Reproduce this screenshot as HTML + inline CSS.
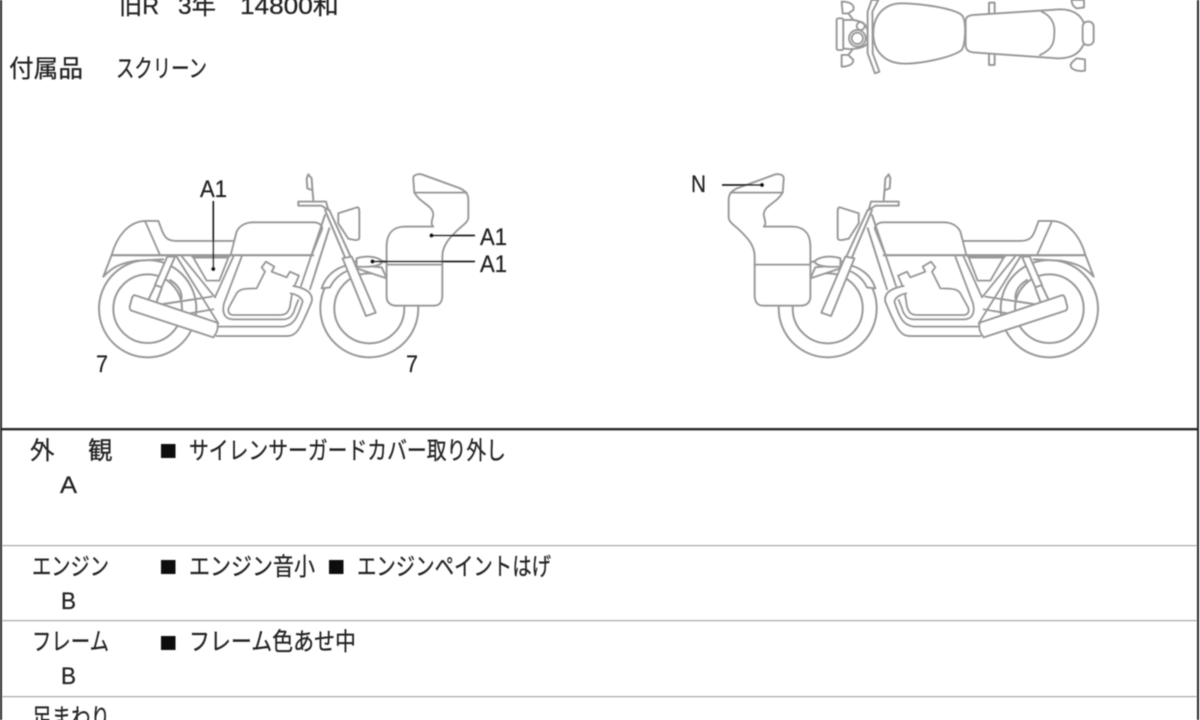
<!DOCTYPE html>
<html lang="ja">
<head>
<meta charset="utf-8">
<title>車両状態</title>
<style>
html,body{margin:0;padding:0;background:#fff;width:1200px;height:720px;overflow:hidden}
svg{display:block}
text{font-family:"Liberation Sans","Noto Sans CJK JP",sans-serif;font-size:24.5px;fill:#222;stroke:#222;stroke-width:.25}
.l{fill:none;stroke:#999;stroke-width:6;stroke-linejoin:round;stroke-linecap:round}
.w{fill:#fff;stroke:#999;stroke-width:6;stroke-linejoin:round;stroke-linecap:round}
</style>
</head>
<body>
<svg width="1200" height="720" viewBox="0 0 1200 720" xmlns="http://www.w3.org/2000/svg">
<defs>
<g id="bike">
  <!-- wheels -->
  <circle class="l" cx="203" cy="446" r="146"/>
  <circle class="l" cx="203" cy="446" r="103"/>
  <path class="l" d="M270,360C295,375 305,395 305,415"/>
  <circle class="l" cx="868" cy="445" r="147"/>
  <circle class="l" cx="868" cy="445" r="105"/>
  <!-- frame mask -->
  <path d="M295,288L700,288L700,400L660,530L410,530Z" fill="#fff"/>
  <!-- rear shock -->
  <path class="w" d="M262,290L285,290L245,382L225,375Z"/>
  <path class="l" d="M225,378L205,420M245,385L230,425"/>
  <!-- swing arm -->
  <path class="l" d="M250,432L395,410M330,460L400,448"/>
  <!-- seat & tail -->
  <path class="w" d="M95,285C110,230 145,185 195,183L235,183C250,220 250,243 290,243L465,243L455,285Z"/>
  <path class="l" d="M195,183L240,285"/>
  <path class="w" d="M95,285L70,350C90,330 110,310 170,302L250,298"/>
  <!-- tank -->
  <path class="w" d="M452,285L470,215C480,195 500,187 520,187L700,187C720,187 730,200 725,210L695,285Z"/>
  <path class="l" d="M95,286L700,286"/>
  <!-- side panel & frame tubes -->
  <path class="l" d="M340,293L445,293L418,362L380,362Z"/>
  <path class="l" d="M336,290L448,290"/>
  <path class="l" d="M290,290L415,490M306,290L405,412L460,290"/>
  <path class="l" d="M485,290L432,430C425,460 435,478 460,478L610,478C630,478 640,465 645,445L655,420"/>
  <!-- engine -->
  <path class="l" d="M460,465C447,465 442,455 447,442L470,400C478,388 490,385 530,385L555,335L545,322L558,305L583,320L575,335L620,352L630,335L657,347L645,375"/>
  <path class="l" d="M460,465L600,465C620,465 625,455 630,440L636,402"/>
  <!-- down tubes -->
  <path class="l" d="M735,165L663,378M748,205L690,388"/>
  <!-- exhaust pipes -->
  <path class="l" d="M410,528L620,528C650,528 660,510 695,425C700,400 680,385 640,378"/>
  <path class="l" d="M415,500L610,500C640,495 650,480 668,425C665,410 645,402 632,400"/>
  <!-- muffler -->
  <path class="w" d="M165,406L412,488C416,505 410,520 400,532L155,452C147,448 148,440 152,430C155,415 158,405 165,406Z"/>
  <!-- headlight -->
  <path class="w" d="M775,160L832,142C838,142 838,150 838,160L838,232C838,240 832,240 825,240L805,236L775,190Z"/>
  <!-- mirror & handlebar -->
  <path class="l" d="M700,120L697,85L695,55L685,43L680,55L682,85L695,90"/>
  <path class="w" d="M655,125L738,125L745,150L725,137L655,137Z"/>
  <!-- fender -->
  <path class="w" d="M725,385C740,340 780,312 830,315L905,322L920,355L830,325C795,330 765,350 750,382Z"/>
  <path class="w" d="M830,295C860,285 895,290 908,305C900,320 870,322 830,320Z"/>
  <!-- fork -->
  <path class="l" d="M735,150L795,292M748,150L812,290"/>
  <path class="w" d="M788,295L815,290L887,458L858,468Z"/>
  <!-- fairing -->
  <path class="w" d="M1003,97L1000,55C1000,42 1020,40 1030,45L1140,85C1160,95 1165,105 1165,120L1165,172C1165,185 1150,195 1135,208C1110,232 1087,255 1087,290L1087,405C1087,425 1080,437 1060,437L950,437C935,437 920,430 920,410L920,260C920,220 940,200 975,200L1060,200C1050,190 1058,180 1060,165C1060,135 1020,130 1003,97Z"/>
  <path class="l" d="M1003,98L1160,98M920,314L1087,314"/>
</g>
<filter id="b" x="-2%" y="-2%" width="104%" height="104%"><feGaussianBlur stdDeviation="0.45"/></filter>
</defs>

<g filter="url(#b)">
<!-- top view -->
<g transform="translate(820,0) scale(0.3333)">
  <rect class="l" x="507" y="8" width="17" height="35" rx="2"/>
  <rect class="l" x="507" y="160" width="17" height="35" rx="2"/>
  <path class="w" d="M755,0L792,0L792,22L770,25C760,20 755,10 755,0Z"/>
  <path class="w" d="M770,175L795,178L795,212C775,215 752,210 752,195C755,185 765,180 770,175Z"/>
  <path class="w" d="M437,65C437,50 445,47 460,45L720,28C760,28 780,45 790,65C800,100 800,120 790,135C775,165 750,175 715,175L460,157C440,155 437,145 437,130Z"/>
  <path class="l" d="M665,35C700,50 705,80 703,100C703,130 695,150 660,165"/>
  <rect class="w" x="788" y="65" width="33" height="70" rx="15"/>
  <path class="w" d="M160,100C160,50 190,10 245,10C300,10 400,25 425,45C440,60 437,130 425,150C400,170 300,195 240,190C190,185 160,150 160,100Z"/>
  <path class="l" d="M85,40L100,60M85,165L100,145"/>
  <path class="w" d="M65,5C90,5 105,15 100,30L85,40L68,40Z"/>
  <path class="w" d="M65,165L85,165L100,180C100,195 80,200 65,200Z"/>
  <rect class="w" x="50" y="55" width="20" height="95" rx="5"/>
  <path class="w" d="M70,60L100,60C130,65 143,75 143,100L143,130C130,145 100,150 70,145Z"/>
  <circle class="w" cx="112" cy="115" r="25"/>
  <circle class="l" cx="112" cy="115" r="17"/>
  <circle class="l" cx="122" cy="78" r="12"/>
  <path class="w" d="M143,35L143,160L165,220L178,215L158,160L157,35L175,0L155,0Z"/>
</g>
<!-- left bike -->
<g transform="translate(80,160) scale(0.3333)"><use href="#bike"/></g>
<!-- right bike (mirror) -->
<g transform="translate(1117,160) scale(-0.3333,0.3333)"><use href="#bike"/></g>

<!-- leaders -->
<g stroke="#222" stroke-width="1.7" fill="#111">
  <line x1="213.3" y1="201" x2="213.3" y2="269"/>
  <line x1="431.5" y1="235.5" x2="475" y2="235.5"/>
  <line x1="372.5" y1="261.5" x2="475" y2="261.5"/>
  <line x1="722" y1="185" x2="762" y2="185"/>
  <circle cx="213.3" cy="269" r="2.2" stroke="none"/>
  <circle cx="431.5" cy="235.5" r="2.2" stroke="none"/>
  <circle cx="372.5" cy="261.5" r="2.2" stroke="none"/>
  <circle cx="762" cy="185" r="2.2" stroke="none"/>
</g>

<!-- bike labels -->
<text x="200" y="197" textLength="27" lengthAdjust="spacingAndGlyphs">A1</text>
<text x="480" y="245" textLength="27" lengthAdjust="spacingAndGlyphs">A1</text>
<text x="480" y="272" textLength="27" lengthAdjust="spacingAndGlyphs">A1</text>
<text x="96" y="372" textLength="12" lengthAdjust="spacingAndGlyphs">7</text>
<text x="406" y="372" textLength="12" lengthAdjust="spacingAndGlyphs">7</text>
<text x="691" y="192" textLength="15" lengthAdjust="spacingAndGlyphs">N</text>

<!-- top texts -->
<text x="119" y="14" textLength="40" lengthAdjust="spacingAndGlyphs">旧R</text>
<text x="178" y="14" textLength="38" lengthAdjust="spacingAndGlyphs">3年</text>
<text x="240" y="14" textLength="99" lengthAdjust="spacingAndGlyphs">14800和</text>
<text x="9" y="77" textLength="74" lengthAdjust="spacingAndGlyphs">付属品</text>
<text x="116" y="77" textLength="91" lengthAdjust="spacingAndGlyphs">スクリーン</text>

<!-- table lines -->
<rect x="0" y="0" width="2" height="720" fill="#2b2b2b"/>
<rect x="1197" y="0" width="2" height="720" fill="#2b2b2b"/>
<rect x="0" y="428" width="1199" height="2.4" fill="#2b2b2b"/>
<rect x="2" y="545" width="1195" height="1.2" fill="#a8a8a8"/>
<rect x="2" y="620" width="1195" height="1.2" fill="#a8a8a8"/>
<rect x="2" y="696" width="1195" height="1.2" fill="#a8a8a8"/>

<!-- rows -->
<text x="30" y="459">外</text>
<text x="88" y="459">観</text>
<text x="60" y="493" textLength="17" lengthAdjust="spacingAndGlyphs">A</text>
<rect x="161" y="444" width="14.5" height="14" fill="#111"/>
<text x="189" y="459" textLength="317" lengthAdjust="spacingAndGlyphs">サイレンサーガードカバー取り外し</text>

<text x="32" y="575" textLength="77" lengthAdjust="spacingAndGlyphs">エンジン</text>
<text x="61" y="609" textLength="15" lengthAdjust="spacingAndGlyphs">B</text>
<rect x="161" y="560" width="14.5" height="14" fill="#111"/>
<text x="189" y="575" textLength="126" lengthAdjust="spacingAndGlyphs">エンジン音小</text>
<rect x="329" y="560" width="14.5" height="14" fill="#111"/>
<text x="357" y="575" textLength="194" lengthAdjust="spacingAndGlyphs">エンジンペイントはげ</text>

<text x="32" y="650" textLength="77" lengthAdjust="spacingAndGlyphs">フレーム</text>
<text x="61" y="684" textLength="15" lengthAdjust="spacingAndGlyphs">B</text>
<rect x="161" y="636" width="14.5" height="14" fill="#111"/>
<text x="189" y="650" textLength="167" lengthAdjust="spacingAndGlyphs">フレーム色あせ中</text>

<text x="32" y="726" textLength="78" lengthAdjust="spacingAndGlyphs">足まわり</text>
</g>
</svg>
</body>
</html>
